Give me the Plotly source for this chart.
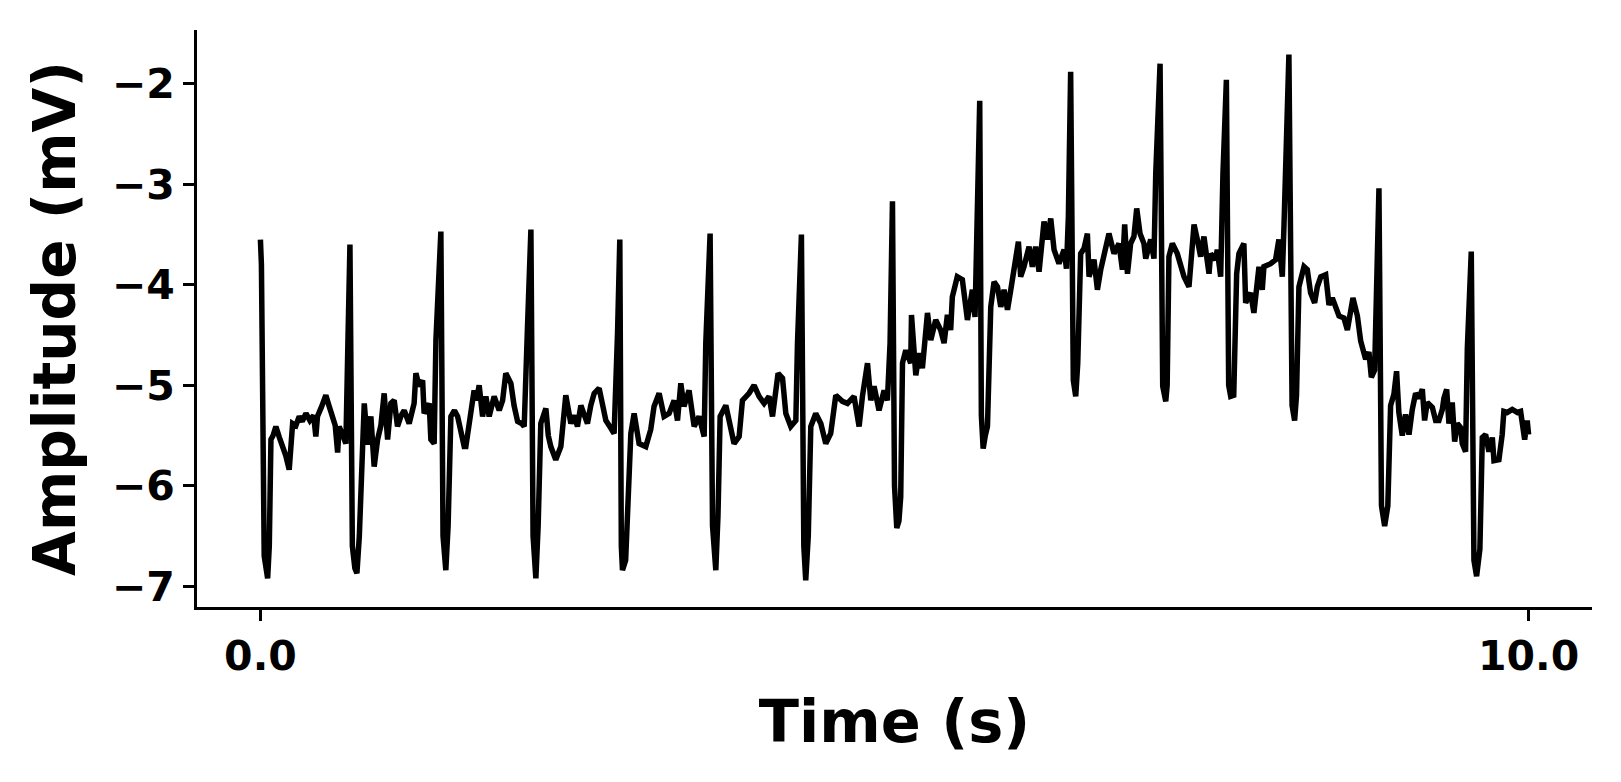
import plotly.graph_objects as go

# ECG trace (time in s, amplitude in mV)
time_s = [
    0.000, 0.008, 0.030, 0.045, 0.057, 0.070, 0.083, 0.100, 0.122, 0.150,
    0.175, 0.200, 0.227, 0.240, 0.254, 0.280, 0.306, 0.330, 0.359, 0.390,
    0.420, 0.437, 0.450, 0.480, 0.516, 0.540, 0.569, 0.590, 0.609, 0.621,
    0.650, 0.674, 0.688, 0.706, 0.725, 0.745, 0.761, 0.780, 0.806, 0.819,
    0.845, 0.871, 0.897, 0.924, 0.950, 0.976, 1.003, 1.029, 1.055, 1.081,
    1.110, 1.134, 1.173, 1.212, 1.226, 1.252, 1.279, 1.291, 1.331, 1.344,
    1.370, 1.384, 1.423, 1.440, 1.462, 1.480, 1.502, 1.530, 1.555, 1.580,
    1.607, 1.620, 1.646, 1.685, 1.705, 1.725, 1.752, 1.778, 1.804, 1.843,
    1.883, 1.910, 1.935, 1.955, 1.975, 2.000, 2.028, 2.060, 2.080, 2.106,
    2.133, 2.150, 2.165, 2.172, 2.190, 2.211, 2.251, 2.270, 2.290, 2.329,
    2.369, 2.408, 2.448, 2.475, 2.500, 2.527, 2.555, 2.579, 2.605, 2.632,
    2.671, 2.700, 2.724, 2.760, 2.789, 2.816, 2.834, 2.846, 2.855, 2.880,
    2.900, 2.921, 2.947, 2.986, 3.039, 3.078, 3.104, 3.144, 3.183, 3.223,
    3.262, 3.289, 3.315, 3.340, 3.380, 3.420, 3.459, 3.499, 3.512, 3.546,
    3.565, 3.591, 3.608, 3.625, 3.670, 3.709, 3.735, 3.775, 3.801, 3.853,
    3.893, 3.932, 3.972, 4.011, 4.038, 4.082, 4.117, 4.143, 4.182, 4.222,
    4.235, 4.266, 4.285, 4.300, 4.320, 4.340, 4.379, 4.419, 4.458, 4.497,
    4.537, 4.589, 4.629, 4.681, 4.721, 4.747, 4.787, 4.813, 4.839, 4.878,
    4.918, 4.944, 4.965, 4.984, 5.000, 5.018, 5.035, 5.049, 5.063, 5.089,
    5.128, 5.134, 5.168, 5.194, 5.220, 5.260, 5.286, 5.325, 5.364, 5.391,
    5.417, 5.443, 5.456, 5.495, 5.535, 5.575, 5.614, 5.635, 5.654, 5.672,
    5.685, 5.699, 5.716, 5.733, 5.759, 5.785, 5.812, 5.838, 5.864, 5.891,
    5.917, 5.943, 5.977, 5.995, 6.021, 6.061, 6.087, 6.113, 6.140, 6.179,
    6.206, 6.232, 6.258, 6.297, 6.337, 6.356, 6.371, 6.389, 6.410, 6.429,
    6.445, 6.468, 6.494, 6.521, 6.534, 6.573, 6.600, 6.626, 6.652, 6.691,
    6.731, 6.770, 6.797, 6.815, 6.837, 6.862, 6.888, 6.910, 6.936, 6.967,
    6.981, 7.020, 7.046, 7.060, 7.094, 7.115, 7.139, 7.150, 7.164, 7.191,
    7.230, 7.257, 7.283, 7.322, 7.335, 7.362, 7.388, 7.414, 7.440, 7.480,
    7.493, 7.532, 7.545, 7.572, 7.590, 7.617, 7.635, 7.651, 7.675, 7.698,
    7.716, 7.755, 7.769, 7.808, 7.834, 7.874, 7.900, 7.913, 7.966, 8.005,
    8.031, 8.058, 8.071, 8.110, 8.135, 8.155, 8.170, 8.189, 8.229, 8.255,
    8.281, 8.313, 8.334, 8.361, 8.400, 8.426, 8.452, 8.478, 8.505, 8.544,
    8.571, 8.615, 8.650, 8.676, 8.715, 8.741, 8.760, 8.786, 8.800, 8.820,
    8.840, 8.865, 8.890, 8.912, 8.938, 8.959, 8.977, 9.004, 9.030, 9.057,
    9.083, 9.109, 9.135, 9.162, 9.180, 9.201, 9.241, 9.267, 9.293, 9.320,
    9.332, 9.354, 9.372, 9.398, 9.417, 9.438, 9.464, 9.477, 9.503, 9.517,
    9.548, 9.569, 9.590, 9.616, 9.635, 9.661, 9.687, 9.714, 9.727, 9.766,
    9.792, 9.805, 9.832, 9.871, 9.911, 9.937, 9.969, 9.989, 10.000,
]

amplitude_mv = [
    -3.55, -3.80, -6.70, -6.90, -6.92, -6.60, -5.54, -5.50, -5.41, -5.52,
    -5.61, -5.70, -5.84, -5.65, -5.38, -5.40, -5.31, -5.36, -5.28, -5.35,
    -5.30, -5.51, -5.31, -5.22, -5.10, -5.20, -5.31, -5.40, -5.67, -5.41,
    -5.50, -5.58, -4.70, -3.60, -6.60, -6.82, -6.87, -6.50, -5.61, -5.18,
    -5.59, -5.31, -5.81, -5.54, -5.40, -5.08, -5.54, -5.18, -5.15, -5.41,
    -5.30, -5.25, -5.38, -5.18, -4.88, -5.01, -4.95, -5.28, -5.18, -5.54,
    -5.58, -4.55, -3.47, -6.50, -6.84, -6.40, -5.31, -5.25, -5.31, -5.45,
    -5.61, -5.61, -5.40, -5.05, -5.15, -5.00, -5.31, -5.11, -5.31, -5.11,
    -5.25, -5.15, -4.88, -4.95, -4.98, -5.20, -5.36, -5.38, -5.41, -4.42,
    -3.45, -6.50, -6.88, -6.92, -6.40, -5.38, -5.23, -5.50, -5.61, -5.74,
    -5.61, -5.10, -5.38, -5.30, -5.41, -5.20, -5.30, -5.38, -5.20, -5.08,
    -5.03, -5.25, -5.35, -5.42, -5.48, -4.48, -3.55, -6.60, -6.84, -6.74,
    -6.20, -5.48, -5.28, -5.58, -5.61, -5.44, -5.21, -5.08, -5.31, -5.28,
    -5.15, -5.35, -4.98, -5.21, -5.05, -5.41, -5.31, -5.51, -4.58, -3.49,
    -6.40, -6.84, -6.30, -5.31, -5.20, -5.44, -5.58, -5.51, -5.15, -5.08,
    -5.00, -5.11, -5.18, -5.11, -5.31, -4.88, -4.93, -5.28, -5.41, -5.35,
    -4.58, -3.50, -6.60, -6.94, -6.50, -5.41, -5.28, -5.38, -5.58, -5.48,
    -5.10, -5.16, -5.18, -5.11, -5.41, -5.11, -4.78, -5.15, -5.01, -5.25,
    -5.05, -5.15, -4.58, -3.17, -6.00, -6.42, -6.35, -6.11, -4.78, -4.65,
    -4.78, -4.30, -4.90, -4.68, -4.83, -4.28, -4.55, -4.35, -4.45, -4.58,
    -4.30, -4.45, -4.12, -3.92, -3.95, -4.35, -4.05, -4.32, -3.26, -2.17,
    -5.30, -5.63, -5.50, -5.41, -4.22, -3.97, -4.02, -4.22, -4.05, -4.25,
    -4.05, -3.85, -3.57, -3.92, -3.82, -3.62, -3.82, -3.62, -3.87, -3.37,
    -3.55, -3.34, -3.65, -3.79, -3.65, -3.84, -3.32, -1.88, -4.95, -5.11,
    -4.78, -3.69, -3.64, -3.49, -3.92, -3.75, -4.05, -3.85, -3.69, -3.49,
    -3.69, -3.59, -3.85, -3.40, -3.89, -3.59, -3.52, -3.24, -3.49, -3.59,
    -3.74, -3.55, -3.74, -2.89, -1.80, -5.01, -5.16, -5.00, -3.72, -3.59,
    -3.69, -3.79, -3.92, -4.02, -3.79, -3.40, -3.55, -3.72, -3.52, -3.89,
    -3.69, -3.75, -3.65, -3.92, -2.89, -1.96, -5.00, -5.11, -5.10, -3.89,
    -3.69, -3.59, -4.18, -4.08, -4.28, -3.82, -4.05, -3.82, -3.79, -3.75,
    -3.55, -3.92, -3.42, -1.71, -5.20, -5.35, -5.10, -4.02, -3.82, -3.85,
    -4.08, -4.18, -4.02, -3.92, -3.90, -4.20, -4.13, -4.24, -4.31, -4.33,
    -4.45, -4.13, -4.31, -4.56, -4.74, -4.67, -4.92, -4.85, -4.10, -3.04,
    -6.20, -6.40, -6.20, -5.20, -5.09, -4.86, -5.27, -5.50, -5.29, -5.49,
    -5.24, -5.08, -5.13, -5.04, -5.35, -5.17, -5.22, -5.35, -5.35, -5.24,
    -5.13, -5.04, -5.38, -5.17, -5.56, -5.38, -5.42, -5.58, -5.66, -4.63,
    -3.67, -6.74, -6.90, -6.63, -5.52, -5.49, -5.66, -5.52, -5.75, -5.74,
    -5.49, -5.26, -5.27, -5.24, -5.27, -5.26, -5.54, -5.35, -5.49,
]

x_tick_vals = [0, 10]
x_tick_text = ["0.0", "10.0"]
y_tick_vals = [-7, -6, -5, -4, -3, -2]

fig = go.Figure()

fig.add_trace(go.Scatter(
    x=time_s,
    y=amplitude_mv,
    mode="lines",
    line=dict(color="black", width=5.5),
    showlegend=False,
))

axis_style = dict(
    showline=True,
    linecolor="black",
    linewidth=3,
    ticks="outside",
    ticklen=11,
    tickwidth=3,
    tickcolor="black",
    showgrid=False,
    zeroline=False,
    automargin=False,
    tickfont=dict(family="DejaVu Sans", size=41, color="black", weight="bold"),
)

fig.update_xaxes(
    range=[-0.5, 10.5],
    tickvals=x_tick_vals,
    ticktext=x_tick_text,
    ticklabelstandoff=0,
    title=dict(text="Time (s)", standoff=22,
               font=dict(family="DejaVu Sans", size=59, color="black", weight="bold")),
    **axis_style,
)

fig.update_yaxes(
    range=[-7.206, -1.465],
    tickvals=y_tick_vals,
    ticklabelstandoff=0,
    title=dict(text="Amplitude (mV)", standoff=18,
               font=dict(family="DejaVu Sans", size=58, color="black", weight="bold")),
    **axis_style,
)

# the page body adds an 8 px offset, so the margins are shifted to compensate
fig.update_layout(
    width=1621,
    height=782,
    margin=dict(l=189, r=37, t=22, b=183),
    plot_bgcolor="white",
    paper_bgcolor="white",
    font=dict(family="DejaVu Sans", color="black"),
)

fig.write_html("out.html")
